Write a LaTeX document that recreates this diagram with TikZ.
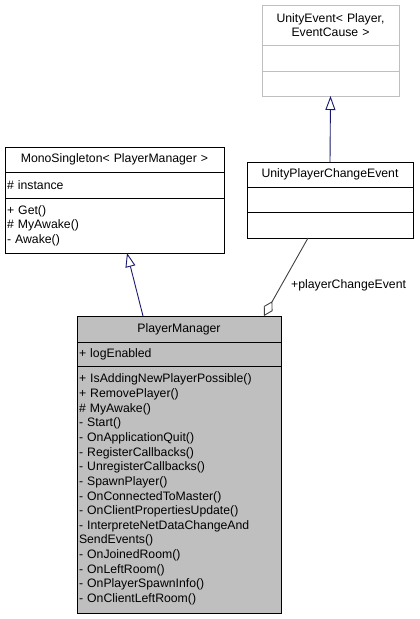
\documentclass[tikz,border=0pt]{standalone}
\usepackage[dvipsnames]{xcolor}
\usepackage{fontspec}
\setmainfont{Liberation Sans}
\usetikzlibrary{arrows.meta,positioning}
\definecolor{edgeblue}{HTML}{191970}
\definecolor{boxgray}{HTML}{BFBFBF}
\definecolor{linkgray}{HTML}{404040}
\tikzset{
  cell/.style={draw=black, line width=0.9pt, inner xsep=2bp, inner ysep=0pt, outer sep=0pt,
    font=\fontsize{12.3}{14.7}\selectfont},
  title/.style={cell, align=center},
  members/.style={cell, align=left},
  ghost/.style={draw=boxgray},
  current/.style={fill=boxgray},
  inherit/.style={-{Triangle[open, length=14bp, width=10bp]}, draw=edgeblue, line width=0.9pt},
  aggr/.style={{Diamond[open, length=17bp, width=10bp]}-, draw=linkgray, line width=0.9pt},
  role/.style={inner sep=0pt, font=\fontsize{12.3}{14.7}\selectfont}
}

\begin{document}
\begin{tikzpicture}[x=1bp, y=-1bp]
  \useasboundingbox (0,0) rectangle (419,619);
  % UnityEvent (base of the event class)
  \node[title, ghost, text width=133bp, minimum height=40bp, anchor=north west] (uehead) at (262,5)
    {UnityEvent< Player,\\ EventCause >};
  \node[members, ghost, text width=133bp, minimum height=26bp, below=0pt of uehead] (ueattr) {};
  \node[members, ghost, text width=133bp, minimum height=25bp, below=0pt of ueattr] (ueops) {};
  % UnityPlayerChangeEvent
  \node[title, text width=162bp, minimum height=25bp, anchor=north west] (uphead) at (247,162)
    {UnityPlayerChangeEvent};
  \node[members, text width=162bp, minimum height=25bp, below=0pt of uphead] (upattr) {};
  \node[members, text width=162bp, minimum height=26bp, below=0pt of upattr] (upops) {};
  % MonoSingleton
  \node[title, text width=215bp, minimum height=25bp, anchor=north west] (mshead) at (5,147)
    {MonoSingleton< PlayerManager >};
  \node[members, text width=215bp, minimum height=26bp, below=0pt of mshead] (msattr) {\# instance};
  \node[members, text width=215bp, minimum height=55bp, below=0pt of msattr] (msops)
    {+ Get()\\\# MyAwake()\\- Awake()};
  % PlayerManager
  \node[title, current, text width=200bp, minimum height=26bp, anchor=north west] (pmhead) at (77,316)
    {PlayerManager};
  \node[members, current, text width=200bp, minimum height=24bp, below=0pt of pmhead] (pmattr)
    {+ logEnabled};
  \node[members, current, text width=200bp, minimum height=247bp, below=0pt of pmattr] (pmops)
    {+ IsAddingNewPlayerPossible()\\+ RemovePlayer()\\\# MyAwake()\\- Start()\\
     - OnApplicationQuit()\\- RegisterCallbacks()\\- UnregisterCallbacks()\\- SpawnPlayer()\\
     - OnConnectedToMaster()\\- OnClientPropertiesUpdate()\\- InterpreteNetDataChangeAnd\\
     SendEvents()\\- OnJoinedRoom()\\- OnLeftRoom()\\- OnPlayerSpawnInfo()\\- OnClientLeftRoom()};
  % Edges
  \draw[inherit] (uphead.north) -- (ueops.south);
  \draw[inherit] ([xshift=66bp]pmhead.north west) -- ([xshift=122bp]msops.south west);
  \draw[aggr] ([xshift=187bp]pmhead.north west) -- ([xshift=61bp]upops.south west);
  \node[role, anchor=base west] (pcrole) at (291,288) {+playerChangeEvent};
\end{tikzpicture}
\end{document}
